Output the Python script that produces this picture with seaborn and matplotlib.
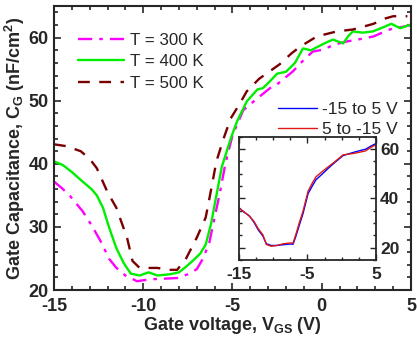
import numpy as np
import pandas as pd
import matplotlib
matplotlib.use("Agg")
import matplotlib.pyplot as plt
from matplotlib.ticker import MultipleLocator
import seaborn as sns

# main curves
vgs_300 = [-15, -14.5, -14.1, -13.4, -12.9, -12.4, -11.9, -11.5, -11.0, -10.35, -9.6, -8.8, -8.1,
           -7.5, -7.0, -6.65, -6.3, -6.0, -5.7, -5.4, -5.0, -4.4, -3.6, -2.9, -2.5, -1.6, -1.0,
           -0.5, 0.07, 0.7, 1.4, 2.2, 2.9, 3.8, 5.0]
cg_300 = [37.2, 36.0, 34.9, 32.5, 30.3, 27.8, 24.9, 23.5, 22.3, 21.4, 21.7, 21.8, 21.9,
          22.5, 23.3, 25.0, 27.5, 31.5, 35.5, 40.0, 44.5, 48.5, 50.4, 52.0, 52.6, 54.7, 56.5,
          57.8, 58.1, 58.9, 59.4, 59.8, 60.2, 61.3, 62.0]

vgs_400 = [-15, -14.5, -14.0, -13.4, -12.9, -12.6, -12.25, -11.9, -11.5, -11.1, -10.7, -10.2, -9.7,
           -9.2, -8.5, -8.0, -7.6, -7.2, -6.8, -6.5, -6.2, -5.9, -5.6, -5.1, -4.75, -4.2, -3.6,
           -3.3, -3.0, -2.5, -2.0, -1.5, -1.05, -0.6, -0.2, 0.3, 0.63, 1.2, 1.5, 1.75, 2.3, 2.87,
           3.4, 3.9, 4.4, 5.0]
cg_400 = [40.4, 39.8, 38.7, 37.2, 36.0, 35.0, 33.0, 29.8, 26.6, 24.3, 22.6, 22.3, 22.8,
          22.3, 22.5, 22.8, 23.7, 24.7, 25.8, 27.2, 30.5, 35.0, 39.5, 44.0, 46.7, 49.9, 51.8,
          52.0, 52.8, 54.3, 54.6, 56.0, 58.3, 58.0, 58.6, 59.3, 59.7, 59.1, 60.3, 61.0, 60.8, 61.0,
          61.6, 62.2, 61.5, 62.1]

vgs_500 = [-15, -14.3, -13.5, -13.0, -12.6, -12.0, -11.5, -10.9, -10.6, -10.2, -9.2, -8.6, -8.1,
           -7.6, -7.0, -6.5, -6.26, -5.9, -5.5, -5.1, -4.6, -4.2, -3.5, -2.9, -2.35, -1.7, -1.2,
           -0.27, 0.85, 1.75, 2.9, 3.5, 4.0, 4.8]
cg_500 = [43.1, 42.8, 42.0, 40.8, 39.3, 35.5, 33.0, 28.2, 24.6, 23.5, 23.5, 23.2, 23.2,
          25.0, 28.3, 31.5, 35.0, 40.4, 44.0, 47.2, 49.5, 51.5, 53.5, 54.7, 55.8, 57.5, 58.6,
          60.2, 61.0, 61.3, 62.2, 63.0, 63.4, 63.4]

# inset sweeps
vgs_fwd = [-15, -14.3, -13.5, -12.8, -12.2, -11.5, -11.0, -10.3, -9.6, -8.5, -7.5, -7.1, -6.7,
           -6.2, -5.65, -4.9, -4.3, -3.75, -2.8, -1.9, -1.0, 0.2, 1.6, 2.5, 3.5, 4.3, 5.0]
cg_fwd = [36.3, 34.5, 33.0, 30.3, 27.3, 24.7, 21.6, 20.9, 20.9, 21.2, 21.5, 21.4, 24.5,
          29.0, 33.8, 42.0, 45.0, 47.6, 50.0, 52.4, 54.6, 57.4, 58.6, 59.3, 60.0, 61.3, 62.3]
vgs_rev = [-15, -14.3, -13.5, -12.8, -12.2, -11.5, -11.0, -10.3, -9.6, -8.5, -7.5, -7.1, -6.7,
           -6.2, -5.65, -4.9, -4.3, -3.75, -2.8, -1.9, -1.0, 0.2, 1.6, 2.5, 3.5, 4.3, 5.0]
cg_rev = [36.0, 34.7, 32.8, 30.7, 27.8, 25.2, 21.3, 20.6, 20.8, 21.6, 21.9, 21.9, 25.3,
          30.0, 34.8, 43.0, 46.2, 48.8, 51.0, 53.0, 54.9, 57.7, 58.2, 58.7, 59.3, 60.8, 61.8]

temps = ["T = 300 K", "T = 400 K", "T = 500 K"]
sweeps = ["-15 to 5 V", "5 to -15 V"]

df_main = pd.concat([
    pd.DataFrame({"Vgs": vgs_300, "Cg": cg_300, "T": temps[0]}),
    pd.DataFrame({"Vgs": vgs_400, "Cg": cg_400, "T": temps[1]}),
    pd.DataFrame({"Vgs": vgs_500, "Cg": cg_500, "T": temps[2]}),
])
df_in = pd.concat([
    pd.DataFrame({"Vgs": vgs_fwd, "Cg": cg_fwd, "sweep": sweeps[0]}),
    pd.DataFrame({"Vgs": vgs_rev, "Cg": cg_rev, "sweep": sweeps[1]}),
])

sns.set_style("ticks")
plt.rcParams["font.family"] = ["Liberation Sans", "DejaVu Sans"]
plt.rcParams["mathtext.fontset"] = "custom"
plt.rcParams["mathtext.rm"] = "Liberation Sans:bold"
plt.rcParams["mathtext.it"] = "Liberation Sans:bold"
plt.rcParams["mathtext.bf"] = "Liberation Sans:bold"

fig = plt.figure(figsize=(4.17, 3.42), dpi=100)
ax = fig.add_axes([0.1295, 0.152, 0.856, 0.830])

styles = {temps[0]: ("#ff00ff", (0, (6, 3, 1.5, 3))),
          temps[1]: ("#00ee00", "-"),
          temps[2]: ("#7a0000", (0, (5, 4)))}
for t in temps:
    col, ls = styles[t]
    sns.lineplot(data=df_main[df_main["T"] == t], x="Vgs", y="Cg", ax=ax, color=col,
                 linestyle=ls, linewidth=1.7, label=t, sort=False)

ax.set_xlim(-15, 5)
ax.set_ylim(20, 65)
ax.set_xticks([-15, -10, -5, 0, 5], labels=["-15", "-10", "-5", "0", "5"],
              fontsize=13, fontweight="bold")
ax.set_yticks([20, 30, 40, 50, 60], labels=["20", "30", "40", "50", "60"],
              fontsize=13, fontweight="bold")
ax.xaxis.set_minor_locator(MultipleLocator(1))
ax.yaxis.set_minor_locator(MultipleLocator(2))
ax.tick_params(which="both", direction="in", top=True, right=True, width=1.2)
ax.tick_params(which="major", length=5)
ax.tick_params(which="minor", length=3)
ax.tick_params(axis="x", which="major", pad=6)
ax.tick_params(axis="y", which="major", pad=4)
for s in ax.spines.values():
    s.set_linewidth(1.5)
ax.set_xlabel("Gate voltage, V$_{GS}$ (V)", fontsize=13, fontweight="bold", labelpad=0)
ax.set_ylabel("Gate Capacitance, C$_G$ (nF/cm$^2$)", fontsize=13, fontweight="bold", labelpad=1)
ax.legend(loc="upper left", bbox_to_anchor=(0.067, 0.907), frameon=False, fontsize=12.2,
          handlelength=2.72, handletextpad=0.35, labelspacing=0.4, borderpad=0, borderaxespad=0)

# inset
axi = fig.add_axes([0.573, 0.2398, 0.3285, 0.36])
in_cols = {sweeps[0]: "#0000ff", sweeps[1]: "#e01818"}
for s in sweeps:
    sns.lineplot(data=df_in[df_in["sweep"] == s], x="Vgs", y="Cg", ax=axi,
                 color=in_cols[s], linewidth=1.0, label=s, sort=False)
axi.set_xlim(-15, 5)
axi.set_ylim(15, 65)
axi.set_xticks([-15, -5, 5], labels=["-15", "-5", "5"], fontsize=12.5, fontweight="bold")
axi.set_yticks([20, 40, 60], labels=["20", "40", "60"], fontsize=12.5, fontweight="bold")
axi.xaxis.set_minor_locator(MultipleLocator(2.5))
axi.yaxis.set_minor_locator(MultipleLocator(5))
axi.tick_params(which="both", direction="in", top=True, right=True, left=True,
                labelleft=False, labelright=True, width=1.0)
axi.tick_params(which="major", length=4)
axi.tick_params(which="minor", length=2.5)
axi.tick_params(axis="x", which="major", pad=5)
axi.tick_params(axis="y", which="major", pad=3)
for s in axi.spines.values():
    s.set_linewidth(1.3)
axi.set_xlabel("")
axi.set_ylabel("")
axi.legend(loc="lower left", bbox_to_anchor=(0.285, 1.0), frameon=False, fontsize=12.5,
           handlelength=2.25, handletextpad=0.3, labelspacing=0.25, borderpad=0, borderaxespad=0)

fig.savefig("out.png", dpi=100)
